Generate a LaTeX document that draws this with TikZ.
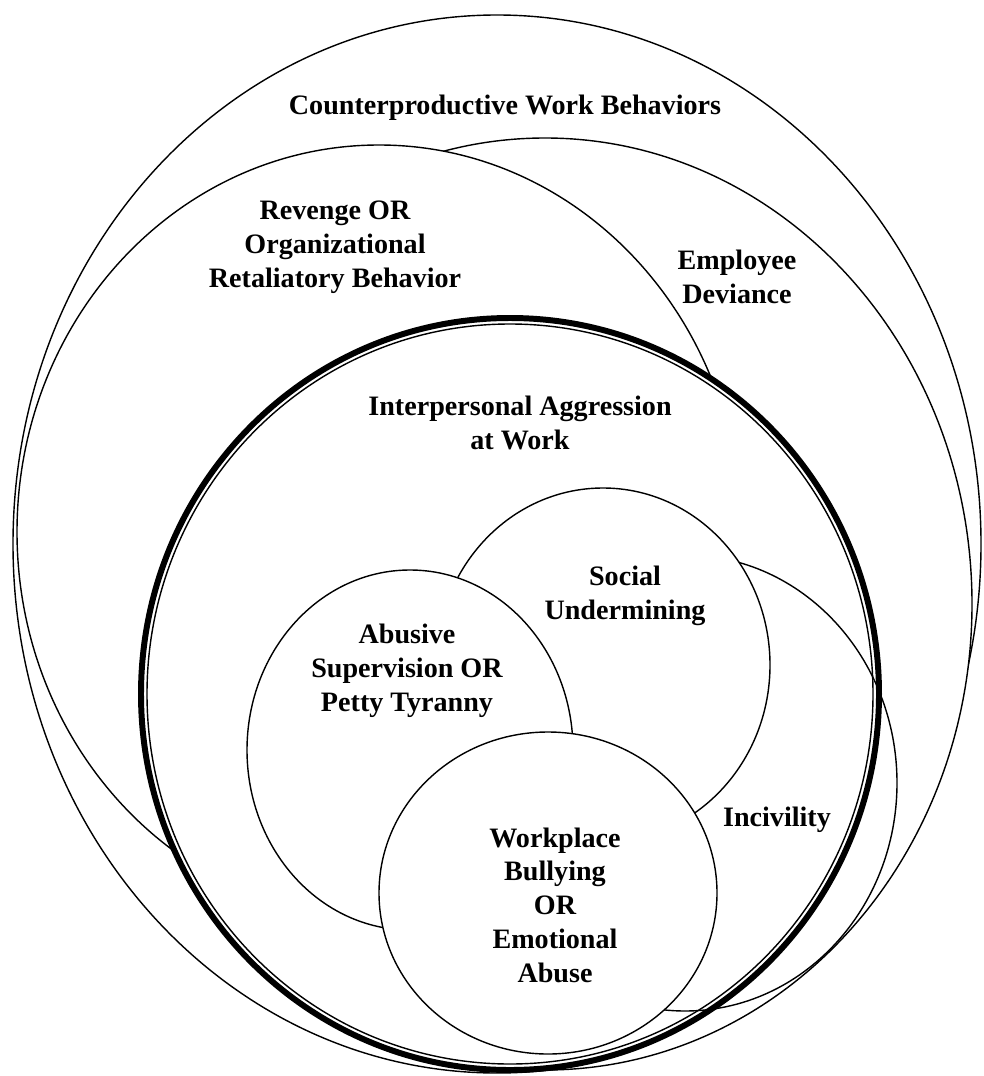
\documentclass[tikz,border=0pt]{standalone}
\usepackage{fontspec}
\setmainfont{Liberation Serif}
\begin{document}
\begin{tikzpicture}[x=0.1mm,y=-0.1mm,
  lbl/.style={font=\fontsize{8}{9.6}\selectfont\bfseries, align=center, inner sep=0pt},
  venn/.style={draw=black, fill=white, line width=0.4pt},
  vline/.style={draw=black, line width=0.4pt},
  heavy/.style={draw=black, fill=white, line width=1.7pt}]
\useasboundingbox (0,0) rectangle (983,1076);
% Counterproductive Work Behaviors
\path[venn] (497,544) ellipse [x radius=484, y radius=529];
% Employee Deviance
\path[venn] (545,604) ellipse [x radius=427, y radius=466];
% Revenge
\path[venn] (379,532) ellipse [x radius=362, y radius=387];
% Interpersonal Aggression (thick, with thin inner line)
\path[heavy] (510,694) ellipse [x radius=369, y radius=376];
\path[vline] (510,694) ellipse [x radius=363, y radius=370];
% Incivility
\path[vline] (685,783) ellipse [x radius=212, y radius=228];
% Social Undermining
\path[venn] (603,665) ellipse [x radius=167, y radius=177];
% Abusive Supervision
\path[venn] (410,750) ellipse [x radius=163, y radius=180];
% Workplace Bullying
\path[venn] (548,893) ellipse [x radius=169, y radius=161];
% labels
\node[lbl] (tcwb) at (505,108) {Counterproductive Work Behaviors};
\node[lbl] (trev) at (335,247) {Revenge OR\\Organizational\\Retaliatory Behavior};
\node[lbl] (ted) at (737,277) {Employee\\Deviance};
\node[lbl] (tia) at (520,423) {Interpersonal Aggression\\at Work};
\node[lbl] (tsu) at (625,596) {Social\\Undermining};
\node[lbl] (tas) at (407,671) {Abusive\\Supervision OR\\Petty Tyranny};
\node[lbl] (twb) at (555,905) {Workplace\\Bullying\\OR\\Emotional\\Abuse};
\node[lbl] (tinc) at (777,820) {Incivility};
\end{tikzpicture}
\end{document}
